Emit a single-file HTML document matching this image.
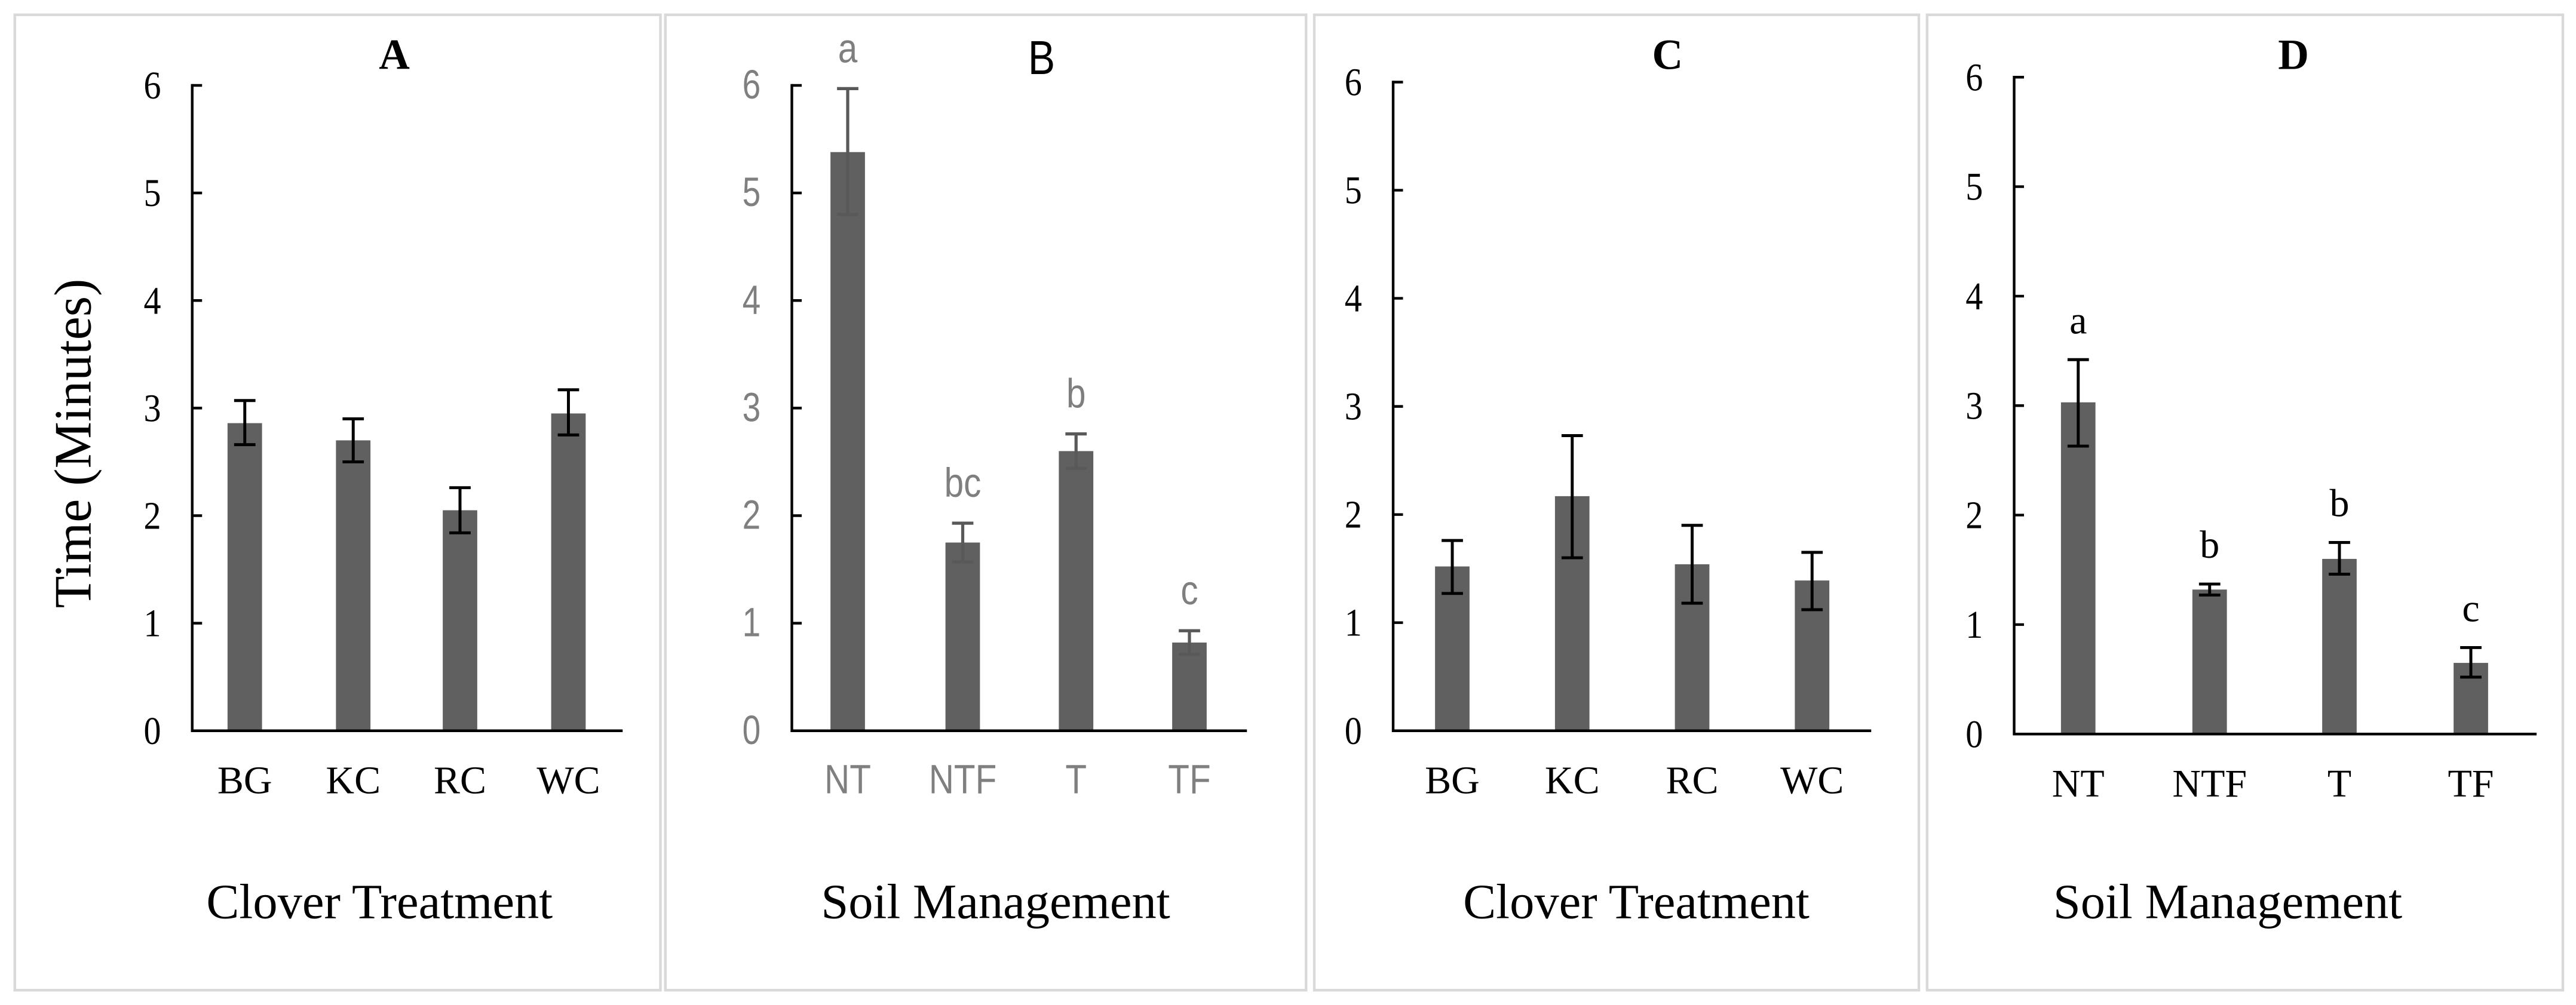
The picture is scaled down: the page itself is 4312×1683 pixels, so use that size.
<!DOCTYPE html>
<html><head><meta charset="utf-8"><style>
html,body{margin:0;padding:0;background:#fff;}
svg{display:block;}
</style></head><body>
<svg id="fig" width="4312" height="1683" viewBox="0 0 1568 612" xmlns="http://www.w3.org/2000/svg"></svg>
<script>
const catsClover = ["BG","KC","RC","WC"];
const catsSoil = ["NT","NTF","T","TF"];
const valsA = [2.86, 2.70, 2.05, 2.95];
const lowA = [2.66, 2.50, 1.84, 2.75];
const highA = [3.07, 2.90, 2.26, 3.17];
const valsB = [5.38, 1.75, 2.60, 0.82];
const lowB = [4.80, 1.57, 2.44, 0.71];
const highB = [5.97, 1.93, 2.76, 0.93];
const lettersB = ["a","bc","b","c"];
const valsC = [1.52, 2.17, 1.54, 1.39];
const lowC = [1.27, 1.60, 1.18, 1.12];
const highC = [1.76, 2.73, 1.90, 1.65];
const valsD = [3.03, 1.32, 1.60, 0.65];
const lowD = [2.63, 1.27, 1.46, 0.52];
const highD = [3.42, 1.37, 1.75, 0.79];
const lettersD = ["a","b","b","c"];
const yTicks = [0,1,2,3,4,5,6];

const NS="http://www.w3.org/2000/svg";
const svg=document.getElementById('fig');
function mk(tag,attrs,parent){const e=document.createElementNS(NS,tag);for(const k in attrs)e.setAttribute(k,attrs[k]);(parent||svg).appendChild(e);return e;}
function txt(parent,x,y,sx,attrs,content){
  const e=mk('text',Object.assign({x:0,y:0,transform:'translate('+x+','+y+') scale('+sx+',1)'},attrs),parent);
  e.textContent=content;return e;
}

const panels=[
 {id:'a',box:[9,9,393,594],ax:117,ay0:445,ay6:52,axEnd:379,bx:[149,215,280,346],cats:catsClover,v:valsA,lo:lowA,hi:highA,title:'A',tx:240,ty:42,serif:true,err:'#000',lab:'Clover Treatment',labx:231,letters:null},
 {id:'b',box:[405,9,390,594],ax:482,ay0:445,ay6:52,axEnd:759,bx:[516,586,655,724],cats:catsSoil,v:valsB,lo:lowB,hi:highB,title:'B',tx:634,ty:45,serif:false,err:'#595959',lab:'Soil Management',labx:606,letters:lettersB},
 {id:'c',box:[800,9,368,594],ax:848,ay0:445,ay6:50,axEnd:1139,bx:[884,957,1030,1103],cats:catsClover,v:valsC,lo:lowC,hi:highC,title:'C',tx:1015,ty:42,serif:true,err:'#000',lab:'Clover Treatment',labx:996,letters:null},
 {id:'d',box:[1173,9,387,594],ax:1226,ay0:447,ay6:47,axEnd:1544,bx:[1265,1345,1424,1504],cats:catsSoil,v:valsD,lo:lowD,hi:highD,title:'D',tx:1396,ty:42,serif:true,err:'#000',lab:'Soil Management',labx:1356,letters:lettersD}
];
const SERIF='"Liberation Serif", serif', SANS='"Liberation Sans", sans-serif';
panels.forEach(p=>{
  const g=mk('g',{});
  
  
  const y=v=>p.ay0-(p.ay0-p.ay6)*v/6;
  const font=p.serif?SERIF:SANS;
  const tcol=p.serif?'#000':'#7f7f7f';
  const sx=p.serif?0.88:0.8;
  const border=mk('rect',{x:p.box[0],y:p.box[1],width:p.box[2],height:p.box[3],fill:'none',stroke:'#d9d9d9','stroke-width':1.6},g);
  
  
  const t=txt(g,p.tx,p.ty,p.serif?1:0.85,{'text-anchor':'middle','font-family':font,'font-size':p.serif?26:29,'font-weight':p.serif?'bold':'normal',fill:'#000'},p.title);
  
  
  p.v.forEach((v,i)=>{
    const r=mk('rect',{x:p.bx[i]-10.5,y:y(v),width:21,height:p.ay0-y(v),fill:'#606060'},g);
    
    
    const eg=mk('g',{stroke:p.err,'stroke-width':p.serif?1.8:1.9,fill:'none'},g);
    
    
    mk('line',{x1:p.bx[i],x2:p.bx[i],y1:y(p.lo[i]),y2:y(p.hi[i])},eg);
    mk('line',{x1:p.bx[i]-6.5,x2:p.bx[i]+6.5,y1:y(p.lo[i]),y2:y(p.lo[i])},eg);
    mk('line',{x1:p.bx[i]-6.5,x2:p.bx[i]+6.5,y1:y(p.hi[i]),y2:y(p.hi[i])},eg);
    const c=txt(g,p.bx[i],p.ay0+38,p.serif?1:0.85,{'text-anchor':'middle','font-family':font,'font-size':p.serif?24:25,fill:tcol},p.cats[i]);
    
    
    if(p.letters){
      const l=txt(g,p.bx[i],y(p.hi[i])-16,p.serif?1:0.85,{'text-anchor':'middle','font-family':font,'font-size':p.serif?24:25,fill:tcol},p.letters[i]);
      
      
    }
  });
  const ax=mk('g',{stroke:'#000','stroke-width':1.6,fill:'none'},g);
  
  
  mk('line',{x1:p.ax,x2:p.ax,y1:p.ay6-0.8,y2:p.ay0+0.8},ax);
  mk('line',{x1:p.ax,x2:p.axEnd,y1:p.ay0,y2:p.ay0},ax);
  yTicks.forEach(tv=>{
    mk('line',{x1:p.ax,x2:p.ax+6,y1:y(tv),y2:y(tv)},ax);
    const tl=txt(g,p.ax-19,y(tv)+8,sx,{'text-anchor':'end','font-family':font,'font-size':p.serif?24:25,fill:tcol},String(tv));
    
    
  });
  const xl=txt(g,p.labx,559,1,{'text-anchor':'middle','font-family':SERIF,'font-size':30,fill:'#000'},p.lab);
  
  
});
const yt=mk('text',{x:0,y:0,transform:'translate(55,270) rotate(-90)','text-anchor':'middle','font-family':SERIF,'font-size':32,fill:'#000'});
yt.textContent='Time (Minutes)';


</script>
</body></html>
